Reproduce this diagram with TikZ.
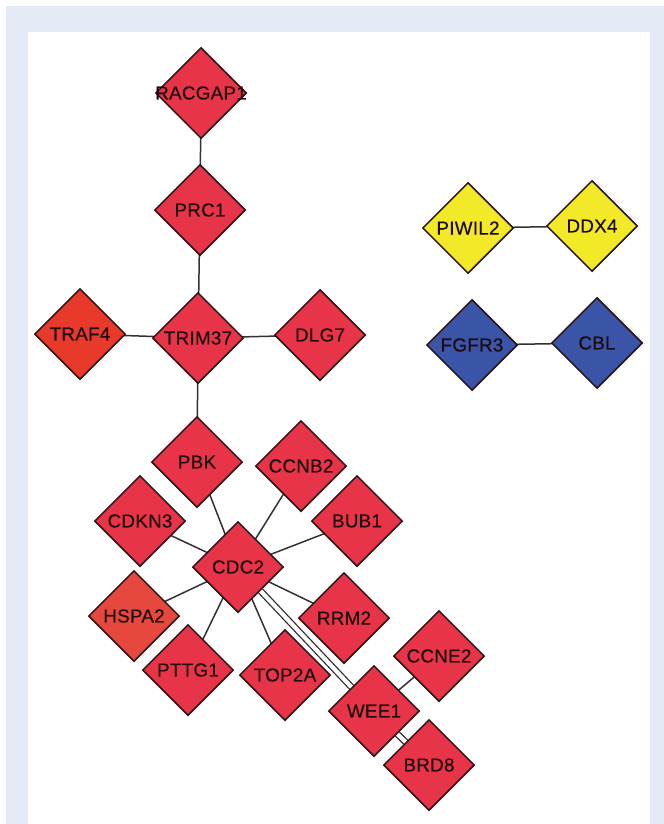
\documentclass[tikz,border=0pt]{standalone}
\usepackage{fontspec}
\setmainfont{Liberation Sans}
\newfontfamily\nodefont[FakeBold=0.4,LetterSpace=1.5]{Liberation Sans}
\usetikzlibrary{shapes.geometric,backgrounds}
\definecolor{framebg}{RGB}{228,234,246}
\definecolor{nred}{RGB}{232,52,72}
\definecolor{nredo}{RGB}{232,58,42}
\definecolor{nredh}{RGB}{230,72,62}
\definecolor{nyel}{RGB}{242,234,40}
\definecolor{nblue}{RGB}{58,84,168}
\definecolor{edgecol}{RGB}{50,50,50}
\definecolor{txtcol}{RGB}{30,10,12}
\definecolor{bordcol}{RGB}{40,18,18}
\newcommand\dlabel[1]{\makebox[0pt]{#1}}
\tikzset{
  dia/.style={shape=diamond, draw=bordcol, line width=1.5bp, fill=nred,
    minimum width=91bp, minimum height=91bp, inner sep=0pt,
    text=txtcol, font=\nodefont\fontsize{18.8bp}{20bp}\selectfont},
  edge/.style={draw=edgecol, line width=1.5bp},
  dedge/.style={draw=edgecol, line width=1.3bp, double=white, double distance=4.2bp}
}
\begin{document}
\begin{tikzpicture}[x=1bp,y=-1bp]
\useasboundingbox (0,0) rectangle (664,824);
\begin{scope}[on background layer]
  \fill[white] (0,0) rectangle (664,824);
  \fill[framebg] (6,6) rectangle (664,824);
  \fill[white] (28,32) rectangle (650,824);
\end{scope}
% nodes
\node[dia] (racgap1) at (201,93) {\dlabel{RACGAP1}};
\node[dia] (prc1) at (200,210) {\dlabel{PRC1}};
\node[dia] (trim37) at (198,338) {\dlabel{TRIM37}};
\node[dia, fill=nredo] (traf4) at (80,334) {\dlabel{TRAF4}};
\node[dia] (dlg7) at (320,335) {\dlabel{DLG7}};
\node[dia] (pbk) at (197,462) {\dlabel{PBK}};
\node[dia] (ccnb2) at (301,466) {\dlabel{CCNB2}};
\node[dia] (cdkn3) at (140,521) {\dlabel{CDKN3}};
\node[dia] (bub1) at (357,521) {\dlabel{BUB1}};
\node[dia] (cdc2) at (238,567) {\dlabel{CDC2}};
\node[dia, fill=nredh] (hspa2) at (134,616) {\dlabel{HSPA2}};
\node[dia] (rrm2) at (344,618) {\dlabel{RRM2}};
\node[dia] (pttg1) at (188,670) {\dlabel{PTTG1}};
\node[dia] (top2a) at (285,675) {\dlabel{TOP2A}};
\node[dia] (ccne2) at (439,656) {\dlabel{CCNE2}};
\node[dia] (wee1) at (374,711) {\dlabel{WEE1}};
\node[dia] (brd8) at (429,765) {\dlabel{BRD8}};
\node[dia, fill=nyel] (piwil2) at (468,228) {\dlabel{PIWIL2}};
\node[dia, fill=nyel] (ddx4) at (592,226) {\dlabel{DDX4}};
\node[dia, fill=nblue] (fgfr3) at (472,345) {\dlabel{FGFR3}};
\node[dia, fill=nblue] (cbl) at (597,343) {\dlabel{CBL}};
% edges
\begin{scope}[on background layer]
  \draw[edge] (racgap1.center) -- (prc1.center);
  \draw[edge] (prc1.center) -- (trim37.center);
  \draw[edge] (traf4.center) -- (trim37.center);
  \draw[edge] (trim37.center) -- (dlg7.center);
  \draw[edge] (trim37.center) -- (pbk.center);
  \draw[edge] (pbk.center) -- (cdc2.center);
  \draw[edge] (ccnb2.center) -- (cdc2.center);
  \draw[edge] (cdkn3.center) -- (cdc2.center);
  \draw[edge] (bub1.center) -- (cdc2.center);
  \draw[edge] (hspa2.center) -- (cdc2.center);
  \draw[edge] (pttg1.center) -- (cdc2.center);
  \draw[edge] (top2a.center) -- (cdc2.center);
  \draw[edge] (rrm2.center) -- (cdc2.center);
  \draw[dedge] (cdc2.center) -- (wee1.center);
  \draw[edge] (wee1.center) -- (ccne2.center);
  \draw[dedge] (wee1.center) -- (brd8.center);
  \draw[edge] (piwil2.center) -- (ddx4.center);
  \draw[edge] (fgfr3.center) -- (cbl.center);
\end{scope}
\end{tikzpicture}
\end{document}
